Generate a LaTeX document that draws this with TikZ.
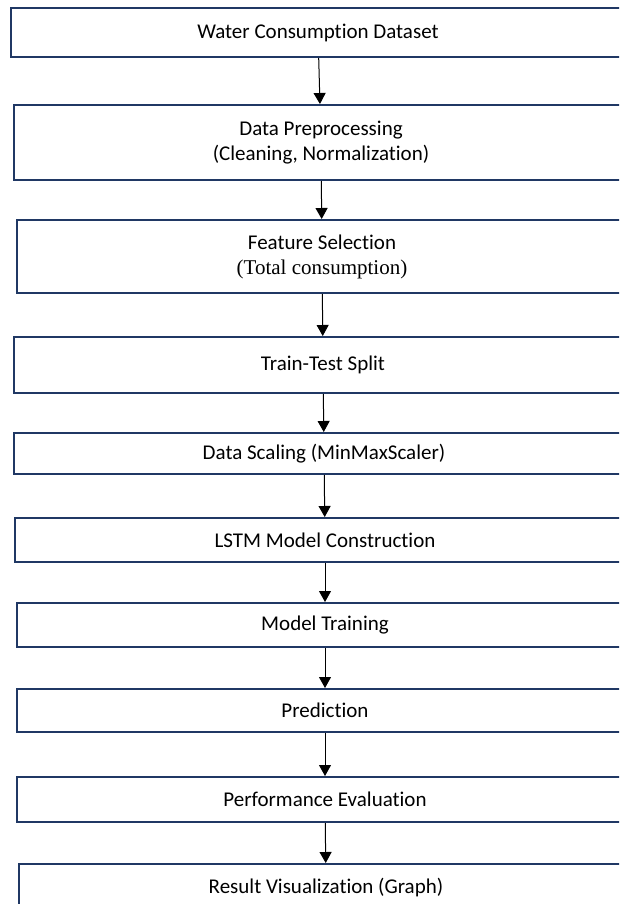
\documentclass[tikz,border=0pt]{standalone}
\usepackage{xcolor}
\usepackage{fontspec}
\setmainfont{Carlito}[Ligatures=NoCommon]
\newfontfamily\timesfont{Liberation Serif}
\usepackage{tikz}
\usetikzlibrary{shapes,arrows.meta}
\definecolor{boxblue}{HTML}{203864}
\tikzstyle{stepbox} = [draw=boxblue, line width=2pt, fill=white, inner sep=0pt, align=center, font=\fontsize{21}{25}\selectfont]
\tikzstyle{arrow} = [draw, -{Triangle[width=12pt, length=11pt]}, line width=1pt, black]

\begin{document}
\begin{tikzpicture}[x=1pt, y=-1pt]
\clip (0, 0) rectangle (619, 904);
\fill[white] (0, 0) rectangle (619, 904);

\node[stepbox, minimum width=614pt, minimum height=49pt] at (318, 32.5) (dataset) {Water Consumption Dataset};
\node[stepbox, minimum width=614pt, minimum height=75pt] at (321, 142.5) (preproc) {Data Preprocessing\\(Cleaning, Normalization)};
\node[stepbox, minimum width=610pt, minimum height=73pt] at (322, 256.5) (featsel) {Feature Selection\\{\timesfont (Total consumption)}};
\node[stepbox, minimum width=618pt, minimum height=56pt] at (323, 365) (split) {Train-Test Split};
\node[stepbox, minimum width=620pt, minimum height=41pt] at (324, 453.5) (scaling) {Data Scaling (MinMaxScaler)};
\node[stepbox, minimum width=620pt, minimum height=44pt] at (325, 540) (lstm) {LSTM Model Construction};
\node[stepbox, minimum width=616pt, minimum height=44pt] at (325, 625) (training) {Model Training};
\node[stepbox, minimum width=616pt, minimum height=43pt] at (325, 710.5) (predict) {Prediction};
\node[stepbox, minimum width=616pt, minimum height=45pt] at (325, 799.5) (perf) {Performance Evaluation};
\node[stepbox, minimum width=614pt, minimum height=48pt] at (326, 888) (visual) {Result Visualization (Graph)};

\path[arrow] (dataset) to (preproc);
\path[arrow] (preproc) to (featsel);
\path[arrow] (featsel) to (split);
\path[arrow] (split) to (scaling);
\path[arrow] (scaling) to (lstm);
\path[arrow] (lstm) to (training);
\path[arrow] (training) to (predict);
\path[arrow] (predict) to (perf);
\path[arrow] (perf) to (visual);
\end{tikzpicture}
\end{document}
